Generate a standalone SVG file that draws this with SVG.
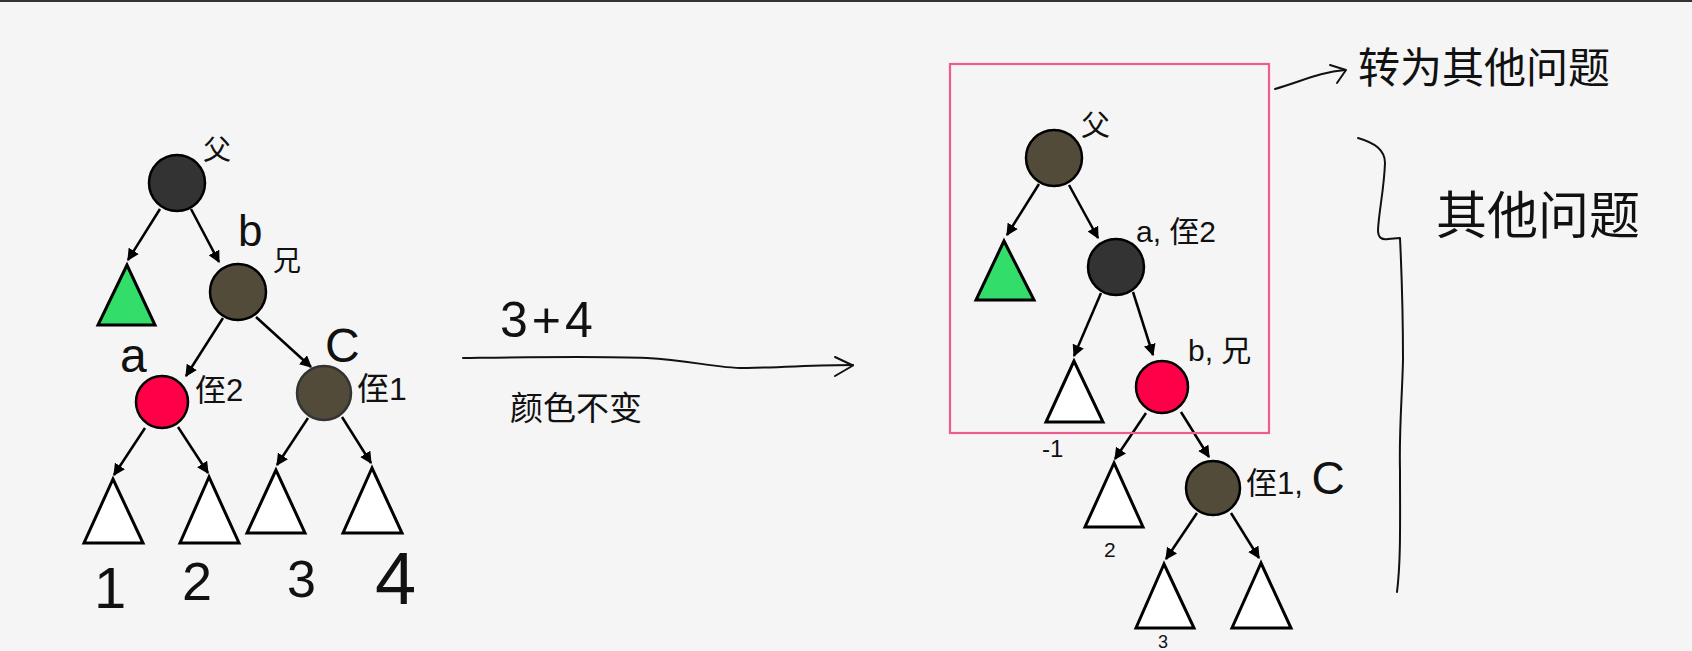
<svg xmlns="http://www.w3.org/2000/svg" width="1692" height="651" viewBox="0 0 1692 651">
<defs>
<marker id="ah" viewBox="0 0 10 10" refX="9" refY="5" markerWidth="12" markerHeight="12" markerUnits="userSpaceOnUse" orient="auto">
<path d="M0,0 L10,5 L0,10 z" fill="#000"/>
</marker>
<style>
.edge{stroke:#000;stroke-width:2.5;fill:none;marker-end:url(#ah)}
.black{fill:#333333;stroke:#000;stroke-width:2.5}
.any{fill:#524b39;stroke:#000;stroke-width:2.5}
.red{fill:#ff0048;stroke:#000;stroke-width:2.5}
.green{fill:#33dd6a;stroke:#000;stroke-width:3}
.tri{fill:#ffffff;stroke:#000;stroke-width:3}
.hw{font-family:"Liberation Sans","Noto Sans CJK SC",sans-serif;fill:#111}
.pen{stroke:#111;stroke-width:2;fill:none;stroke-linecap:round;stroke-linejoin:round}
</style>
</defs>
<rect x="0" y="0" width="1692" height="651" fill="#f5f5f5"/>
<rect x="0" y="0" width="1692" height="2" fill="#333"/>

<g id="connectors">
<line class="edge" x1="160" y1="209" x2="128" y2="260"/>
<line class="edge" x1="191" y1="209" x2="219" y2="262"/>
<line class="edge" x1="223" y1="318" x2="186" y2="376"/>
<line class="edge" x1="256" y1="317" x2="311" y2="367"/>
<line class="edge" x1="145" y1="428" x2="114" y2="475"/>
<line class="edge" x1="178" y1="427" x2="208" y2="473"/>
<line class="edge" x1="308" y1="418" x2="277" y2="465"/>
<line class="edge" x1="342" y1="417" x2="371" y2="463"/>
<line class="edge" x1="1039" y1="184" x2="1007" y2="235"/>
<line class="edge" x1="1069" y1="185" x2="1098" y2="238"/>
<line class="edge" x1="1101" y1="293" x2="1074" y2="356"/>
<line class="edge" x1="1133" y1="292" x2="1153" y2="355"/>
<line class="edge" x1="1146" y1="413" x2="1115" y2="459"/>
<line class="edge" x1="1181" y1="412" x2="1209" y2="457"/>
<line class="edge" x1="1197" y1="513" x2="1166" y2="559"/>
<line class="edge" x1="1231" y1="513" x2="1259" y2="558"/>
<path class="pen" d="M463,358 C540,357 600,356 647,358 C690,360 720,369 747,368 C790,367 820,365 853,365"/>
<path class="pen" d="M835,357 L853,365.5 L835,376"/>
<path class="pen" d="M1275,89 C1300,82 1320,72 1345,70"/>
<path class="pen" d="M1330,65 L1346,70 L1337,83"/>
</g>

<g id="tree-left">
<g id="l-parent"><circle class="black" cx="177" cy="183" r="28"/><text class="hw" x="203" y="160" font-size="28">父</text></g>
<g id="l-green"><polygon class="green" points="127,265 98,325 155,325"/></g>
<g id="l-b"><circle class="any" cx="238" cy="292" r="28"/><text class="hw" x="238" y="246" font-size="44">b</text><text class="hw" x="273" y="271" font-size="28">兄</text></g>
<g id="l-a"><circle class="red" cx="162" cy="402" r="26"/><text class="hw" x="120" y="372" font-size="48">a</text><text class="hw" x="195" y="401" font-size="31">侄2</text></g>
<g id="l-c"><circle class="any" cx="324" cy="393" r="27" style="stroke:#333"/><text class="hw" x="325" y="362" font-size="48">C</text><text class="hw" x="357" y="400" font-size="32">侄1</text></g>
<g id="l-t1"><polygon class="tri" points="113,479 84,543 143,543"/><text class="hw" x="94" y="608" font-size="58" font-weight="300">1</text></g>
<g id="l-t2"><polygon class="tri" points="209,477 180,543 239,543"/><text class="hw" x="182" y="600" font-size="54">2</text></g>
<g id="l-t3"><polygon class="tri" points="276,470 247,533 305,533"/><text class="hw" x="287" y="597" font-size="52">3</text></g>
<g id="l-t4"><polygon class="tri" points="372,468 343,533 402,533"/><text class="hw" x="375" y="604" font-size="74">4</text></g>
</g>

<g id="transform">
<text class="hw" x="500" y="337" font-size="50" letter-spacing="4">3+4</text>
<text class="hw" x="510" y="420" font-size="33">颜色不变</text>
</g>

<g id="tree-right">
<rect id="box" x="950" y="64" width="319" height="369" fill="none" stroke="#ee5c8c" stroke-width="2.2"/>
<g id="r-parent"><circle class="any" cx="1054" cy="158" r="28"/><text class="hw" x="1081" y="136" font-size="29">父</text></g>
<g id="r-green"><polygon class="green" points="1004,241 976,300 1034,300"/></g>
<g id="r-a"><circle class="black" cx="1116" cy="267" r="28"/><text class="hw" x="1136" y="242" font-size="30">a, 侄2</text></g>
<g id="r-t1"><polygon class="tri" points="1074,361 1046,422 1103,422"/><text class="hw" x="1042" y="457" font-size="24">-1</text></g>
<g id="r-b"><circle class="red" cx="1162" cy="387" r="26"/><text class="hw" x="1188" y="361" font-size="30">b, 兄</text></g>
<g id="r-t2"><polygon class="tri" points="1114,463 1085,527 1143,527"/><text class="hw" x="1104" y="557" font-size="21">2</text></g>
<g id="r-c"><circle class="any" cx="1213" cy="488" r="27"/><text class="hw" x="1246" y="494" font-size="31">侄1, <tspan font-size="46">C</tspan></text></g>
<g id="r-t3"><polygon class="tri" points="1164,564 1136,628 1194,628"/><text class="hw" x="1158" y="648" font-size="18">3</text></g>
<g id="r-t4"><polygon class="tri" points="1261,563 1232,628 1291,628"/></g>
</g>

<g id="notes">
<text class="hw" x="1358" y="83" font-size="42">转为其他问题</text>
<path class="pen" d="M1358,138 C1375,143 1385,150 1385,163 C1384,190 1379,210 1378,230 C1378,238 1382,240 1388,239 L1400,238 C1402,280 1403,320 1403,360 C1402,400 1399,430 1400,470 C1400,520 1401,560 1397,592"/>
<text class="hw" x="1436" y="234" font-size="51">其他问题</text>
</g>
</svg>
